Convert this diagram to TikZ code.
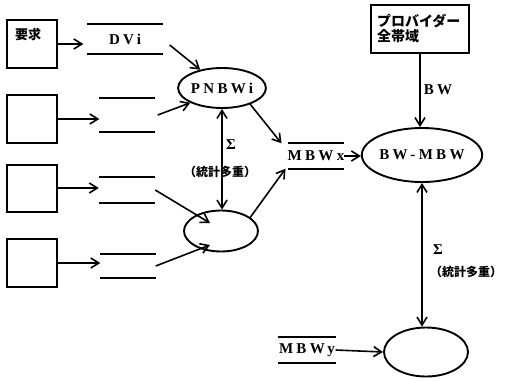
\documentclass[tikz,border=0pt]{standalone}
\usepackage{fontspec}
\setmainfont{Liberation Serif}
\newfontfamily\spaced[LetterSpace=22]{Liberation Serif}
\newfontfamily\jp{Noto Sans CJK JP}
\usetikzlibrary{arrows.meta,shapes.geometric}
\tikzset{
  flow/.style={line width=1.6pt,-{Straight Barb[length=8pt,width=10pt]}},
  both/.style={line width=1.6pt,{Straight Barb[length=8pt,width=10pt]}-{Straight Barb[length=8pt,width=10pt]}},
  ent/.style={draw,line width=2pt,minimum width=50pt,minimum height=48pt,inner sep=0pt},
  proc/.style={draw,ellipse,line width=1.9pt,inner sep=0pt,font=\spaced\bfseries\fontsize{15}{17}\selectfont},
  store/.style={inner sep=0pt,font=\spaced\bfseries\fontsize{15}{17}\selectfont},
  lbl/.style={inner sep=0pt,font=\spaced\bfseries\fontsize{15}{17}\selectfont},
  jlbl/.style={inner sep=0pt,font=\jp\bfseries\fontsize{12}{15}\selectfont}
}
\begin{document}
\begin{tikzpicture}[x=1pt,y=-1pt]
    \useasboundingbox (0,0) rectangle (505,380);

    \node[ent] (r1) at (32,44) {};
    \node[jlbl,font=\jp\bfseries\fontsize{13}{15}\selectfont,anchor=north west] (req) at ([xshift=9pt,yshift=-9pt]r1.north west) {要求};
    \node[ent] (r2) at (32,119) {};
    \node[ent,minimum height=47pt] (r3) at (32,188) {};
    \node[ent] (r4) at (32,263) {};

    \node[store,minimum width=75pt,minimum height=30pt] (d1) at (125,39) {DVi};
    \node[store,minimum width=55pt,minimum height=34pt] (d2) at (127,115) {};
    \node[store,minimum width=56pt,minimum height=26pt] (d3) at (127,190) {};
    \node[store,minimum width=55pt,minimum height=24pt] (d4) at (128,266) {};
    \node[store,minimum width=52pt,minimum height=25pt] (mx) at (316,156) {MBWx};
    \node[store,minimum width=57pt,minimum height=25pt] (my) at (307,350) {MBWy};
    \foreach \s in {d1,d2,d3,d4,mx,my}
        \draw[line width=1.8pt] (\s.north west) -- (\s.north east) (\s.south west) -- (\s.south east);

    \node[proc,minimum width=80pt,minimum height=40pt] (p1) at (222,88) {PNBWi};
    \node[proc,minimum width=74pt,minimum height=41pt] (p2) at (221,231) {};
    \node[proc,minimum width=109pt,minimum height=54pt] (bw) at (422,155) {BW-MBW};
    \node[proc,minimum width=84pt,minimum height=49pt] (p3) at (426,352) {};
    \node[ent,minimum width=98pt,minimum height=48pt,align=left,text width=86pt,jlbl,font=\jp\bfseries\fontsize{14}{15}\selectfont] (prov) at (420,29) {プロバイダー\\全帯域};

    \draw[flow,shorten >=4pt] (r1.east) -- (r1.east -| d1.west);
    \draw[flow] (r2.east) -- (r2.east -| d2.west);
    \draw[flow] (r3.east) -- (r3.east -| d3.west);
    \draw[flow] (r4.east) -- (r4.east -| d4.west);

    \draw[flow] ([xshift=7pt,yshift=-6pt]d1.east) -- (p1.140);
    \draw[flow] ([xshift=3pt]d2.east) -- (p1.205);
    \draw[flow] (d3.east) -- ([shift={(-11pt,8pt)}]p2.center);
    \draw[flow] (d4.east) -- ([shift={(-11pt,-14pt)}]p2.center);

    \draw[both] (p1.south) -- (p1.south |- p2.north);
    \node[lbl] (s1) at (231,145) {Σ};
    \node[jlbl,anchor=west] (m1) at (184,172) {（統計多重）};

    \draw[flow] (p1.-30) -- ([xshift=-6pt]mx.north west);
    \draw[flow] (p2.25) -- ([xshift=-2pt]mx.south west);
    \draw[flow] (mx.east) -- (mx.east -| bw.west);

    \draw[flow] (prov.south) -- (prov.south |- bw.north);
    \node[lbl] (bwl) at (438,90) {BW};

    \draw[both] (bw.south) -- (bw.south |- p3.north);
    \node[lbl] (s2) at (438,250) {Σ};
    \node[jlbl,anchor=west] (m2) at (430,272) {（統計多重）};

    \draw[flow] (my.east) -- (p3.west);
\end{tikzpicture}
\end{document}
